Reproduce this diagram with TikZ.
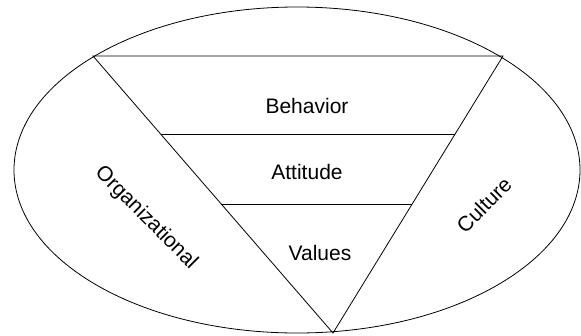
\documentclass[tikz,border=0pt]{standalone}
\usepackage{fontspec}
\setmainfont{Liberation Sans}
\usetikzlibrary{calc}

\begin{document}
\begin{tikzpicture}[
    x=1pt, y=-1pt,
    outline/.style={draw, line width=0.8pt},
    layer/.style={font=\fontsize{21}{25}\selectfont},
    side/.style={font=\fontsize{21}{25}\selectfont, inner sep=0pt},
]
\useasboundingbox (0,0) rectangle (581,335);

% culture ellipse
\draw[outline] (297,170) ellipse [x radius=283, y radius=163];

% inverted triangle
\coordinate (tl) at (93,56);
\coordinate (tr) at (503,56);
\coordinate (bot) at (333,333);
\draw[outline] (tl) -- (tr) -- (bot) -- cycle;

% layers
\draw[outline] ($(tl)!0.2816!(bot)$) -- ($(tr)!0.2816!(bot)$);
\draw[outline] ($(tl)!0.534!(bot)$) -- ($(tr)!0.534!(bot)$);

\node[layer] (behavior) at (307,106) {Behavior};
\node[layer] (attitude) at (307,172) {Attitude};
\node[layer] (values) at (320,253) {Values};

% side labels
\node[side, rotate=-45] (org) at (146,218) {Organizational};
\node[side, rotate=45] (culture) at (484,205) {Culture};

\end{tikzpicture}
\end{document}
